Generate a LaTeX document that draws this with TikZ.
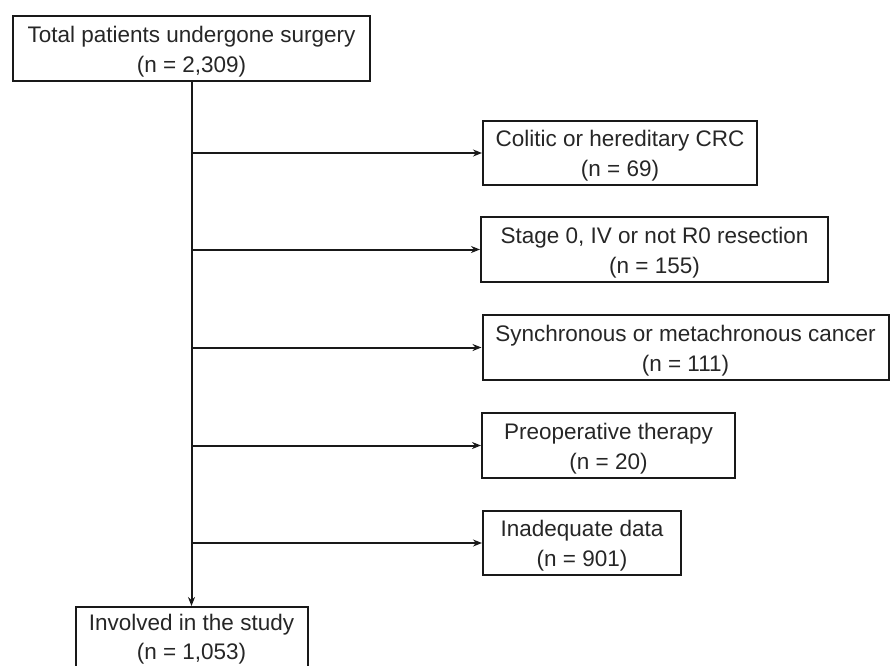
\documentclass[tikz,border=0pt]{standalone}
\usepackage{fontspec}
\setmainfont{Liberation Sans}
\usetikzlibrary{arrows.meta}
\newcommand{\mytopstrut}{\rule{0pt}{22.5pt}}
\begin{document}
\begin{tikzpicture}[x=1pt,y=-1pt,
  box/.style={draw=black!90, line width=2pt, inner sep=0pt, align=center,
    font=\fontsize{22.5}{30}\selectfont, text=black!85},
  arr/.style={draw=black!90, line width=2pt, -{Stealth[length=9pt,width=7pt]}}]
\useasboundingbox (0,0) rectangle (891,665);
\node[box, minimum width=357pt, minimum height=65pt] (top) at (191.5,48.5) {\mytopstrut Total patients undergone surgery\\(n = 2,309)};
\node[box, minimum width=274pt, minimum height=64pt] (c1) at (620,153) {\mytopstrut Colitic or hereditary CRC\\(n = 69)};
\node[box, minimum width=347pt, minimum height=65pt] (c2) at (654.5,249.5) {\mytopstrut Stage 0, IV or not R0 resection\\(n = 155)};
\node[box, minimum width=406pt, minimum height=65pt] (c3) at (685.5,347.5) {\mytopstrut Synchronous or metachronous cancer\\(n = 111)};
\node[box, minimum width=253pt, minimum height=65pt] (c4) at (608.5,445.5) {\mytopstrut Preoperative therapy\\(n = 20)};
\node[box, minimum width=198pt, minimum height=64pt] (c5) at (582,543) {\mytopstrut Inadequate data\\(n = 901)};
\node[box, minimum width=232pt, minimum height=65pt] (bot) at (191.5,639.5) {Involved in the study\\[-1pt](n = 1,053)};
\draw[arr] (top.south) -- (bot.north);
\foreach \n in {c1,c2,c3,c4,c5}{
  \draw[arr] (top.south |- \n.west) -- (\n.west);
}
\end{tikzpicture}
\end{document}
